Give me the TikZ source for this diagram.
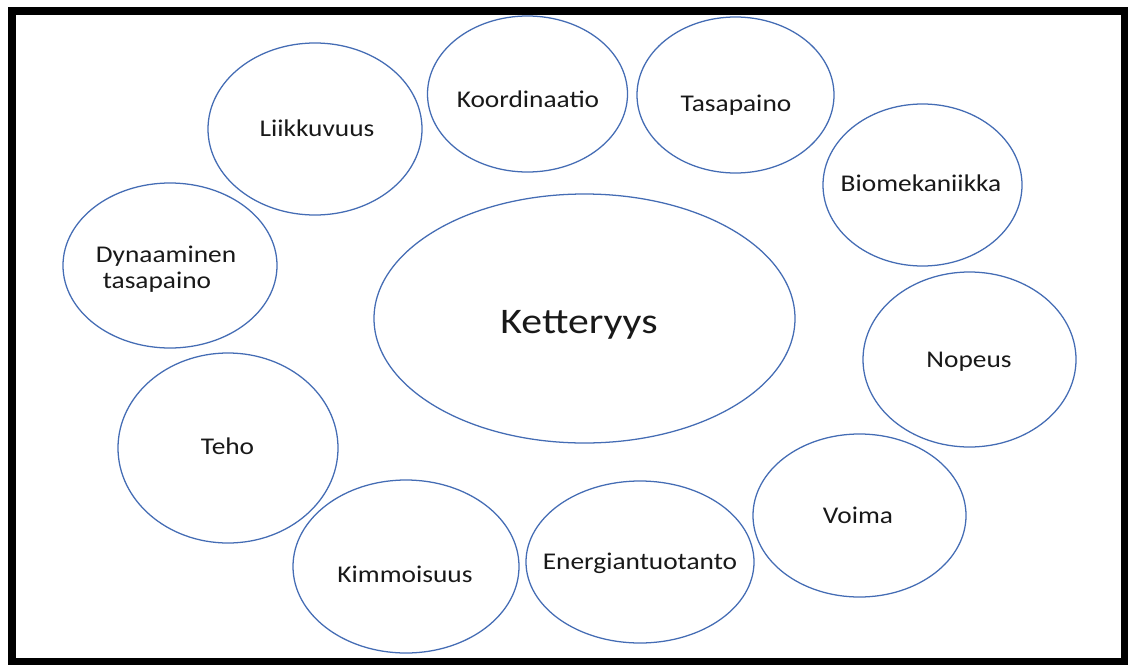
\documentclass[tikz,border=0pt]{standalone}
\usepackage{fontspec}
\setmainfont{Carlito}
\usetikzlibrary{shapes.geometric}
\definecolor{ellblue}{RGB}{68,108,180}
\definecolor{txt}{RGB}{25,25,25}
\tikzset{
  bub/.style={ellipse, draw=ellblue, line width=0.95pt, inner sep=0pt, outer sep=0pt},
  lab/.style={anchor=base, inner sep=0pt, text=txt, font=\fontsize{18}{22}\selectfont},
  biglab/.style={anchor=base, inner sep=0pt, text=txt, font=\fontsize{27}{32}\selectfont}
}
\newcommand{\wide}[1]{\scalebox{1.14}[1]{#1}}
\begin{document}
\begin{tikzpicture}[x=0.75pt,y=-0.75pt]
\useasboundingbox (0,0) rectangle (1128,664);
\fill[white] (0,0) rectangle (1128,664);
\draw[line width=6pt, black] (12,11) rectangle (1125,662);

\node[bub, minimum width=315.75pt, minimum height=186.75pt] (eK) at (584.5,318.5) {};
\node[bub, minimum width=150pt, minimum height=117pt] (eKo) at (527.5,94) {};
\node[bub, minimum width=147.75pt, minimum height=117pt] (eTa) at (735.5,95) {};
\node[bub, minimum width=160.5pt, minimum height=129pt] (eLi) at (315,129) {};
\node[bub, minimum width=149.25pt, minimum height=121.5pt] (eBi) at (922.5,185) {};
\node[bub, minimum width=160.5pt, minimum height=123.75pt] (eDy) at (170,265.5) {};
\node[bub, minimum width=159.75pt, minimum height=131.25pt] (eNo) at (969.5,359.5) {};
\node[bub, minimum width=165pt, minimum height=142.5pt] (eTe) at (228,448) {};
\node[bub, minimum width=159.75pt, minimum height=122.25pt] (eVo) at (859.5,515.5) {};
\node[bub, minimum width=169.5pt, minimum height=129.75pt] (eKi) at (406,566.5) {};
\node[bub, minimum width=171pt, minimum height=121.5pt] (eEn) at (640,562) {};

\node[biglab] (tK) at (579,333) {\scalebox{1.16}[1]{Ketteryys}};
\node[lab] (tKo) at (528,107) {\wide{Koordinaatio}};
\node[lab] (tTa) at (736,111) {\wide{Tasapaino}};
\node[lab] (tLi) at (317,136) {\wide{Liikkuvuus}};
\node[lab] (tBi) at (921,191) {\wide{Biomekaniikka}};
\node[lab] (tDy1) at (166,262) {\wide{Dynaaminen}};
\node[lab] (tDy2) at (157,288) {\wide{tasapaino}};
\node[lab] (tNo) at (969,367) {\wide{Nopeus}};
\node[lab] (tTe) at (227.5,454) {\wide{Teho}};
\node[lab] (tVo) at (858,523) {\wide{Voima}};
\node[lab] (tKi) at (405,582) {\wide{Kimmoisuus}};
\node[lab] (tEn) at (640,569) {\wide{Energiantuotanto}};
\end{tikzpicture}
\end{document}
